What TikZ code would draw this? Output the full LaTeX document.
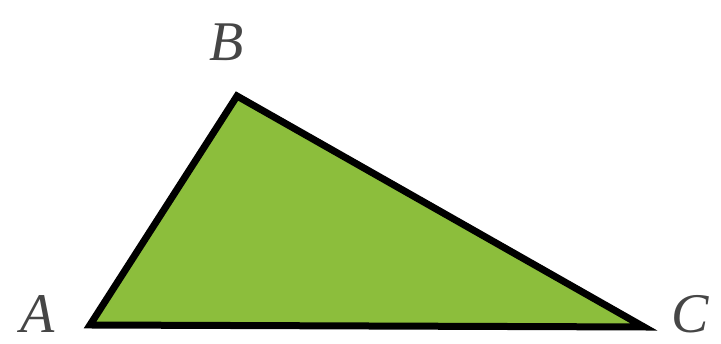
\documentclass[tikz,border=0pt]{standalone}
\usepackage{fontspec}
\setmainfont{Liberation Serif}
\definecolor{trigreen}{RGB}{140,190,60}
\definecolor{labgray}{RGB}{70,70,70}
\begin{document}
\begin{tikzpicture}[x=1pt,y=1pt,
  lab/.style={text=labgray,font=\fontsize{56}{56}\selectfont\itshape,inner sep=0pt}]
\useasboundingbox (0,0) rectangle (721,344);
\coordinate (A) at (90,19);
\coordinate (B) at (237,248);
\coordinate (C) at (644,17);
\filldraw[fill=trigreen,draw=black,line width=7pt,line join=miter] (A) -- (B) -- (C) -- cycle;
\node[lab] (lA) at (38,30) {A};
\node[lab] (lB) at (227,302) {B};
\node[lab] (lC) at (690,30) {C};
\end{tikzpicture}
\end{document}
